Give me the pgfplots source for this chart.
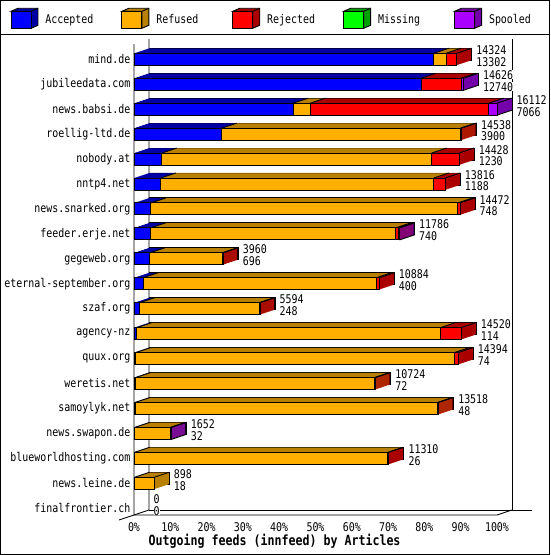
\documentclass[border=0pt]{standalone}
\usepackage{fontspec}
\setmainfont{DejaVu Sans Mono}[FakeStretch=0.83]
\usepackage{pgfplots}
\usepackage{pgfplotstable}
\pgfplotsset{compat=1.18}

\definecolor{accF}{RGB}{0,0,255}
\definecolor{accB}{RGB}{0,0,165}
\definecolor{refF}{RGB}{255,175,0}
\definecolor{refB}{RGB}{185,128,0}
\definecolor{rejF}{RGB}{255,0,0}
\definecolor{rejB}{RGB}{170,0,0}
\definecolor{misF}{RGB}{0,255,0}
\definecolor{misB}{RGB}{0,160,0}
\definecolor{spoF}{RGB}{170,0,255}
\definecolor{spoB}{RGB}{115,0,170}

\newcommand\sm{\fontsize{12}{13}\selectfont}

% edges of the 3d boxes: depth 15 right, 5 up, front face 12 high
\pgfdeclareplotmark{topdiag}{%
  \pgfpathmoveto{\pgfqpoint{0pt}{6pt}}%
  \pgfpathlineto{\pgfqpoint{15pt}{11pt}}%
  \pgfusepathqstroke}
\pgfdeclareplotmark{enddiag}{%
  \pgfpathmoveto{\pgfqpoint{0pt}{6pt}}%
  \pgfpathlineto{\pgfqpoint{15pt}{11pt}}%
  \pgfpathmoveto{\pgfqpoint{0pt}{-6pt}}%
  \pgfpathlineto{\pgfqpoint{15pt}{-1pt}}%
  \pgfusepathqstroke}

% articles per peer, 100% = 16112
\pgfplotstableread{
idx peer                  tot   acc   ref   rej  mis spo
0   mind.de               14324 13302 548   474  0   0
1   jubileedata.com       14626 12740 0     1776 0   110
2   news.babsi.de         16112 7066  764   7913 0   369
3   roellig-ltd.de        14538 3900  10588 50   0   0
4   nobody.at             14428 1230  11985 1213 0   0
5   nntp4.net             13816 1188  12120 508  0   0
6   news.snarked.org      14472 748   13624 100  0   0
7   feeder.erje.net       11786 740   10871 130  0   45
8   gegeweb.org           3960  696   3219  45   0   0
9   eternal-september.org 10884 400   10354 130  0   0
10  szaf.org              5594  248   5301  45   0   0
11  agency-nz             14520 114   13486 920  0   0
12  quux.org              14394 74    14150 170  0   0
13  weretis.net           10724 72    10607 45   0   0
14  samoylyk.net          13518 48    13425 45   0   0
15  news.swapon.de        1652  32    1575  0    0   45
16  blueworldhosting.com  11310 26    11239 45   0   0
17  news.leine.de         898   18    880   0    0   0
18  finalfrontier.ch      0     0     0     0    0   0
}\feeds

\pgfplotsset{
  base/.style={
    at={(134pt,40pt)}, anchor=south west,
    scale only axis, width=363pt, height=471pt,
    xmin=0, xmax=100, ymin=-0.613, ymax=18.273, y dir=reverse,
    clip=false,
  },
  bars/.style={base, hide axis, xbar stacked, bar width=12pt},
  cubeleg/.style 2 args={legend image code/.code={
    \filldraw[fill=#2, draw=black, line width=0.9pt]
      (0pt,8.5pt) -- (7pt,11.5pt) -- (27pt,11.5pt) -- (27pt,-5.5pt)
      -- (20pt,-8.5pt) -- (20pt,8.5pt) -- cycle;
    \draw[line width=0.9pt] (20pt,8.5pt) -- (27pt,11.5pt);
    \filldraw[fill=#1, draw=black, line width=0.9pt] (0pt,-8.5pt) rectangle (20pt,8.5pt);
  }},
}

\newcommand\segplots[5]{%
  \addplot[fill=#1] table[x expr=\thisrow{acc}/161.12, y=idx]{\feeds};
  \addplot[fill=#2] table[x expr=\thisrow{ref}/161.12, y=idx]{\feeds};
  \addplot[fill=#3] table[x expr=\thisrow{rej}/161.12, y=idx]{\feeds};
  \addplot[fill=#4] table[x expr=\thisrow{mis}/161.12, y=idx]{\feeds};
  \addplot[fill=#5] table[x expr=\thisrow{spo}/161.12, y=idx]{\feeds};
}

\begin{document}
\begin{tikzpicture}
\useasboundingbox (0,0) rectangle (550pt,555pt);

% frame and tick labels
\begin{axis}[base,
  axis line style={draw=none}, major tick length=0pt, tick style={draw=none},
  xtick={0,10,...,100},
  xticklabels={0\%,10\%,20\%,30\%,40\%,50\%,60\%,70\%,80\%,90\%,100\%},
  ytick={0,...,18},
  yticklabels from table={\feeds}{peer},
  ticklabel style={font=\sm},
  xticklabel style={yshift=-4pt},
  yticklabel style={inner sep=0pt, xshift=-3.5pt},
]
\draw[line width=0.9pt]
  (axis description cs:0,1) -- (axis description cs:0,0) -- (axis description cs:1,0)
  -- ([shift={(15pt,5pt)}]axis description cs:1,0);
\draw[line width=0.9pt]
  ([shift={(-15pt,-5pt)}]axis description cs:0,0) -- ([shift={(15pt,5pt)}]axis description cs:0,0)
  -- ([shift={(15pt,5pt)}]axis description cs:0,1);
\draw[line width=0.9pt]
  ([shift={(15pt,5pt)}]axis description cs:0,0) -- ([shift={(35pt,5pt)}]axis description cs:1,0);
\draw[line width=0.9pt]
  ([shift={(15pt,5pt)}]axis description cs:1,0) -- ([shift={(15pt,5pt)}]axis description cs:1,1);
\node[font=\bfseries\fontsize{14}{15}\selectfont] at (axis description cs:0.3873,-0.0567)
  {Outgoing feeds (innfeed) by Articles};
\end{axis}

% back face of the boxes, with outline
\begin{axis}[bars, xshift=15pt, yshift=5pt,
  every axis plot/.append style={draw=black, line width=0.9pt}]
  \segplots{accB}{refB}{rejB}{misB}{spoB}
\end{axis}
% top and side faces
\foreach \k in {14,...,1}{
\begin{axis}[bars, xshift={\k*1pt}, yshift={\k*1pt/3},
  every axis plot/.append style={draw=none}]
  \segplots{accB}{refB}{rejB}{misB}{spoB}
\end{axis}
}

% front faces
\begin{axis}[bars,
  every axis plot/.append style={line width=0.9pt, mark options={draw=black, line width=0.9pt}}]
  \addplot[draw=none, fill=none, mark=topdiag] table[x expr=0, y=idx]{\feeds};
  \addplot[draw=black, fill=accF, mark=topdiag] table[x expr=\thisrow{acc}/161.12, y=idx]{\feeds};
  \addplot[draw=black, fill=refF, mark=topdiag] table[x expr=\thisrow{ref}/161.12, y=idx]{\feeds};
  \addplot[draw=black, fill=rejF, mark=topdiag] table[x expr=\thisrow{rej}/161.12, y=idx]{\feeds};
  \addplot[draw=black, fill=misF, mark=topdiag] table[x expr=\thisrow{mis}/161.12, y=idx]{\feeds};
  \addplot[draw=black, fill=spoF, mark=enddiag] table[x expr=\thisrow{spo}/161.12, y=idx]{\feeds};
\end{axis}

% value labels and legend
\begin{axis}[base, hide axis,
  legend columns=5,
  legend style={at={(axis description cs:-0.3402,1.0546)}, anchor=west,
    draw=none, fill=none, inner sep=0pt, outer sep=0pt, font=\sm,
    nodes={inner sep=0pt, text width=76pt, align=left, anchor=west},
    /tikz/every odd column/.append style={column sep=7pt},
    /tikz/every even column/.append style={column sep=0pt}},
]
  \addlegendimage{cubeleg={accF}{accB}}\addlegendentry{Accepted}
  \addlegendimage{cubeleg={refF}{refB}}\addlegendentry{Refused}
  \addlegendimage{cubeleg={rejF}{rejB}}\addlegendentry{Rejected}
  \addlegendimage{cubeleg={misF}{misB}}\addlegendentry{Missing}
  \addlegendimage{cubeleg={spoF}{spoB}}\addlegendentry{Spooled}
  \addplot[draw=none, forget plot, nodes near coords, point meta=explicit symbolic,
    every node near coord/.append style={anchor=west, inner sep=0pt, fill=white,
      font=\sm, xshift=19.5pt, yshift=9.3pt}]
    table[x expr=\thisrow{tot}/161.12, y=idx, meta=tot]{\feeds};
  \addplot[draw=none, forget plot, nodes near coords, point meta=explicit symbolic,
    every node near coord/.append style={anchor=west, inner sep=0pt, fill=white,
      font=\sm, xshift=19.5pt, yshift=-2.5pt}]
    table[x expr=\thisrow{tot}/161.12, y=idx, meta=acc]{\feeds};
\end{axis}

\draw[line width=1pt] (0.5pt,0.5pt) rectangle (549.5pt,554.5pt);
\draw[line width=1pt] (0pt,520pt) -- (550pt,520pt);
\end{tikzpicture}
\end{document}
